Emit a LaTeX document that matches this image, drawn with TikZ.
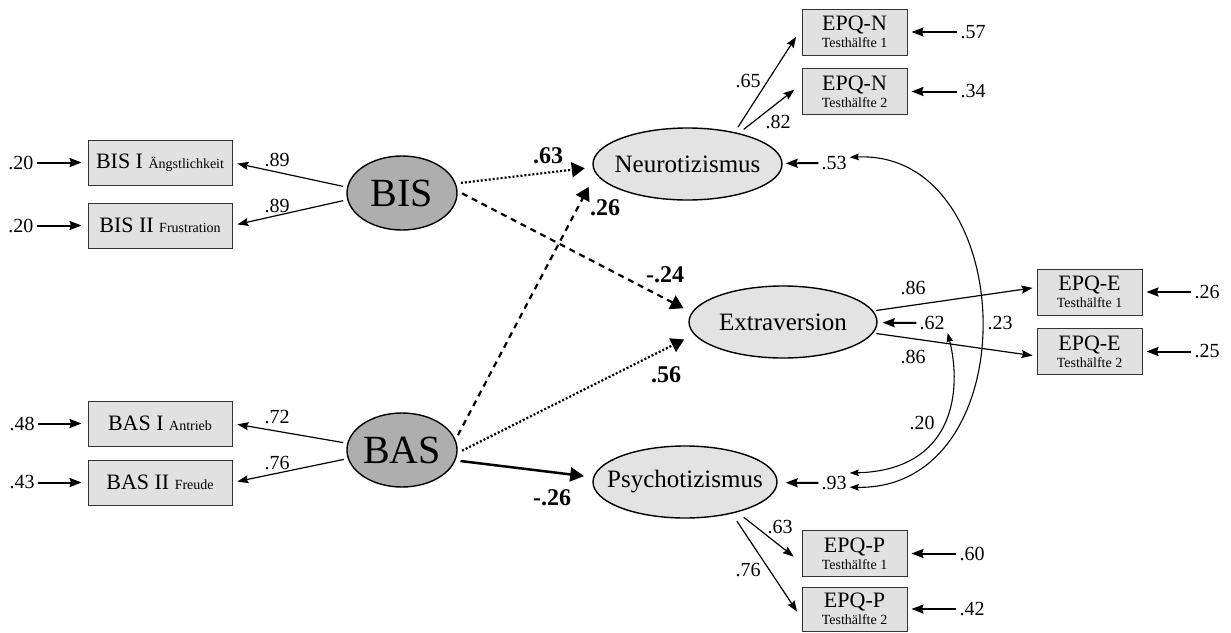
\documentclass[tikz,border=0pt]{standalone}
\usepackage{fontspec}
\setmainfont{Liberation Serif}
\usetikzlibrary{arrows.meta,shapes.geometric}
\definecolor{boxfill}{HTML}{E1E1E1}
\definecolor{boxline}{HTML}{333333}
\definecolor{latfill}{HTML}{AEAEAE}
\definecolor{facfill}{HTML}{E3E3E3}

\begin{document}
\begin{tikzpicture}[x=1pt,y=-1pt,
  num/.style={inner sep=3pt,font=\fontsize{20}{20}\selectfont},
  bnum/.style={inner sep=2pt,font=\fontsize{24}{24}\selectfont\bfseries},
  indbox/.style={draw=boxline,line width=0.9pt,fill=boxfill,minimum width=144pt,
    minimum height=45pt,inner sep=0pt,font=\fontsize{22}{22}\selectfont},
  epqbox/.style={draw=boxline,line width=0.9pt,fill=boxfill,minimum width=105pt,
    minimum height=46pt,inner sep=0pt,align=center,font=\fontsize{22}{17}\selectfont},
  latent/.style={ellipse,draw,line width=1.4pt,fill=latfill,minimum width=110pt,
    minimum height=74pt,inner sep=0pt,font=\fontsize{40}{40}\selectfont},
  factor/.style={ellipse,draw,line width=1.4pt,fill=facfill,minimum height=72pt,
    inner sep=0pt,font=\fontsize{25}{25}\selectfont},
  errarrow/.style={line width=2pt,-{Stealth[length=12pt,width=9pt,inset=1.5pt]}},
  loadarrow/.style={line width=1.2pt,-{Stealth[length=11pt,width=8pt,inset=1.5pt]}},
  covarrow/.style={line width=1.1pt,{Stealth[length=9pt,width=6.5pt,inset=1pt]}-{Stealth[length=9pt,width=6.5pt,inset=1pt]}},
  pathtip/.style={-{Triangle[length=13pt,width=15pt]}},
  dotpath/.style={pathtip,line width=2.2pt,dash pattern=on 2pt off 2pt},
  dashpath/.style={pathtip,line width=2.2pt,dash pattern=on 6pt off 5pt},
  solidpath/.style={line width=2.5pt,-{Triangle[length=14pt,width=14pt]}}
]
\useasboundingbox (0,0) rectangle (1231,632);

% latent variables
\node[latent] (BIS) at (402,193) {BIS};
\node[latent] (BAS) at (402,450) {BAS};
\node[factor,minimum width=189pt] (Neuro) at (687.5,164) {\makebox[0pt]{Neurotizismus}};
\node[factor,minimum width=188pt] (Extra) at (783,322) {\makebox[0pt]{Extraversion}};
\node[factor,minimum width=184pt] (Psych) at (685,482) {\makebox[0pt]{Psychotizismus}};

% BIS/BAS indicators
\node[indbox] (BISI)  at (160,162.5) {BIS I {\fontsize{14}{14}\selectfont Ängstlichkeit}};
\node[indbox] (BISII) at (160,225.5) {BIS II {\fontsize{14}{14}\selectfont Frustration}};
\node[indbox] (BASI)  at (160,423.5) {BAS I {\fontsize{14}{14}\selectfont Antrieb}};
\node[indbox] (BASII) at (160,482.5) {BAS II {\fontsize{14}{14}\selectfont Freude}};

% EPQ indicators
\node[epqbox] (N1) at (854.5,32)    {EPQ-N\\{\fontsize{14}{14}\selectfont Testhälfte 1}};
\node[epqbox] (N2) at (854.5,91.5)  {EPQ-N\\{\fontsize{14}{14}\selectfont Testhälfte 2}};
\node[epqbox] (E1) at (1089.5,292)  {EPQ-E\\{\fontsize{14}{14}\selectfont Testhälfte 1}};
\node[epqbox] (E2) at (1089.5,351.5){EPQ-E\\{\fontsize{14}{14}\selectfont Testhälfte 2}};
\node[epqbox] (P1) at (854.5,553.5) {EPQ-P\\{\fontsize{14}{14}\selectfont Testhälfte 1}};
\node[epqbox,minimum height=44pt] (P2) at (854.5,609) {EPQ-P\\{\fontsize{14}{14}\selectfont Testhälfte 2}};

% error terms of the indicators
\node[num] (eBISI)  at (21,162.5) {.20};
\node[num] (eBISII) at (21,225.5) {.20};
\node[num] (eBASI)  at (22,423.5) {.48};
\node[num] (eBASII) at (22,482.5) {.43};
\node[num] (eN1) at (973,32)    {.57};
\node[num] (eN2) at (973,91.5)  {.34};
\node[num] (eE1) at (1207,292)  {.26};
\node[num] (eE2) at (1207,351.5){.25};
\node[num] (eP1) at (972,553.5) {.60};
\node[num] (eP2) at (972,609)   {.42};

\foreach \e/\b in {eBISI/BISI,eBISII/BISII,eBASI/BASI,eBASII/BASII}
  \draw[errarrow,shorten >=6pt] (\e.east) -- (\b.west);
\foreach \e/\b in {eN1/N1,eN2/N2,eE1/E1,eE2/E2,eP1/P1,eP2/P2}
  \draw[errarrow,shorten >=4pt] (\e.west) -- (\b.east);

% residuals of the factors
\node[num] (r53) at (834,163) {.53};
\node[num] (r62) at (932,323) {.62};
\node[num] (r93) at (834,483) {.93};
\draw[errarrow,shorten >=3pt] (r53) -- (Neuro);
\draw[errarrow,shorten >=5pt] (r62) -- (Extra);
\draw[errarrow,shorten >=8pt] (r93) -- (Psych);

% loadings of BIS and BAS
\draw[loadarrow,shorten <=4pt,shorten >=5pt] (BIS.174) -- (BISI.east);
\draw[loadarrow,shorten <=4pt,shorten >=5pt] (BIS.187) -- (BISII.east);
\draw[loadarrow,shorten <=4pt,shorten >=5pt] (BAS.173) -- (BASI.east);
\draw[loadarrow,shorten <=4pt,shorten >=5pt] (BAS.189) -- (BASII.east);
\node[num] (lBISI)  at (277,160) {.89};
\node[num] (lBISII) at (277,206) {.89};
\node[num] (lBASI)  at (277,417) {.72};
\node[num] (lBASII) at (277,463) {.76};

% loadings of the EPQ factors
\draw[loadarrow,shorten <=6pt,shorten >=10pt] (Neuro.34) -- (N1.176);
\draw[loadarrow,shorten <=6pt,shorten >=9pt]  (Neuro.31) -- (N2.172);
\draw[loadarrow,shorten <=3pt,shorten >=4pt] (Extra.7) -- (E1.175);
\draw[loadarrow,shorten <=3pt,shorten >=4pt] (Extra.-7) -- (E2.185);
\draw[loadarrow,shorten <=8pt,shorten >=10pt] (Psych.-30) -- (P1.190);
\draw[loadarrow,shorten <=9pt,shorten >=8pt]  (Psych.-34) -- (P2.190);
\node[num] (lN1) at (748,81)  {.65};
\node[num] (lN2) at (778,122) {.82};
\node[num] (lE1) at (913,288) {.86};
\node[num] (lE2) at (913,357) {.86};
\node[num] (lP1) at (780,527) {.63};
\node[num] (lP2) at (748,570) {.76};

% structural paths
\draw[dotpath,shorten <=5pt,shorten >=8pt]   (BIS.10)  -- (Neuro.182);
\draw[dashpath,shorten <=5pt,shorten >=9pt]  (BIS.2)   -- (Extra.174);
\draw[dashpath,shorten <=5pt,shorten >=15pt] (BAS.11)  -- (Neuro.186);
\draw[dotpath,shorten <=5pt,shorten >=11pt]  (BAS.-3)  -- (Extra.188);
\draw[solidpath,shorten <=5pt,shorten >=9pt] (BAS.-11) -- (Psych.177);
\node[bnum] (p63) at (548,156) {.63};
\node[bnum] (p26) at (605,208) {.26};
\node[bnum] (p24) at (665,275) {-.24};
\node[bnum] (p56) at (666,375) {.56};
\node[bnum] (pm26) at (552,498) {-.26};

% residual covariances
\draw[covarrow] (r53.20) .. controls (1020,150) and (1030,490) .. (r93.-15);
\draw[covarrow] (r62.south east) .. controls (962,390) and (955,470) .. (r93.north east);
\node[num] (c23) at (1000,323) {.23};
\node[num] (c20) at (922,423)  {.20};
\end{tikzpicture}
\end{document}
